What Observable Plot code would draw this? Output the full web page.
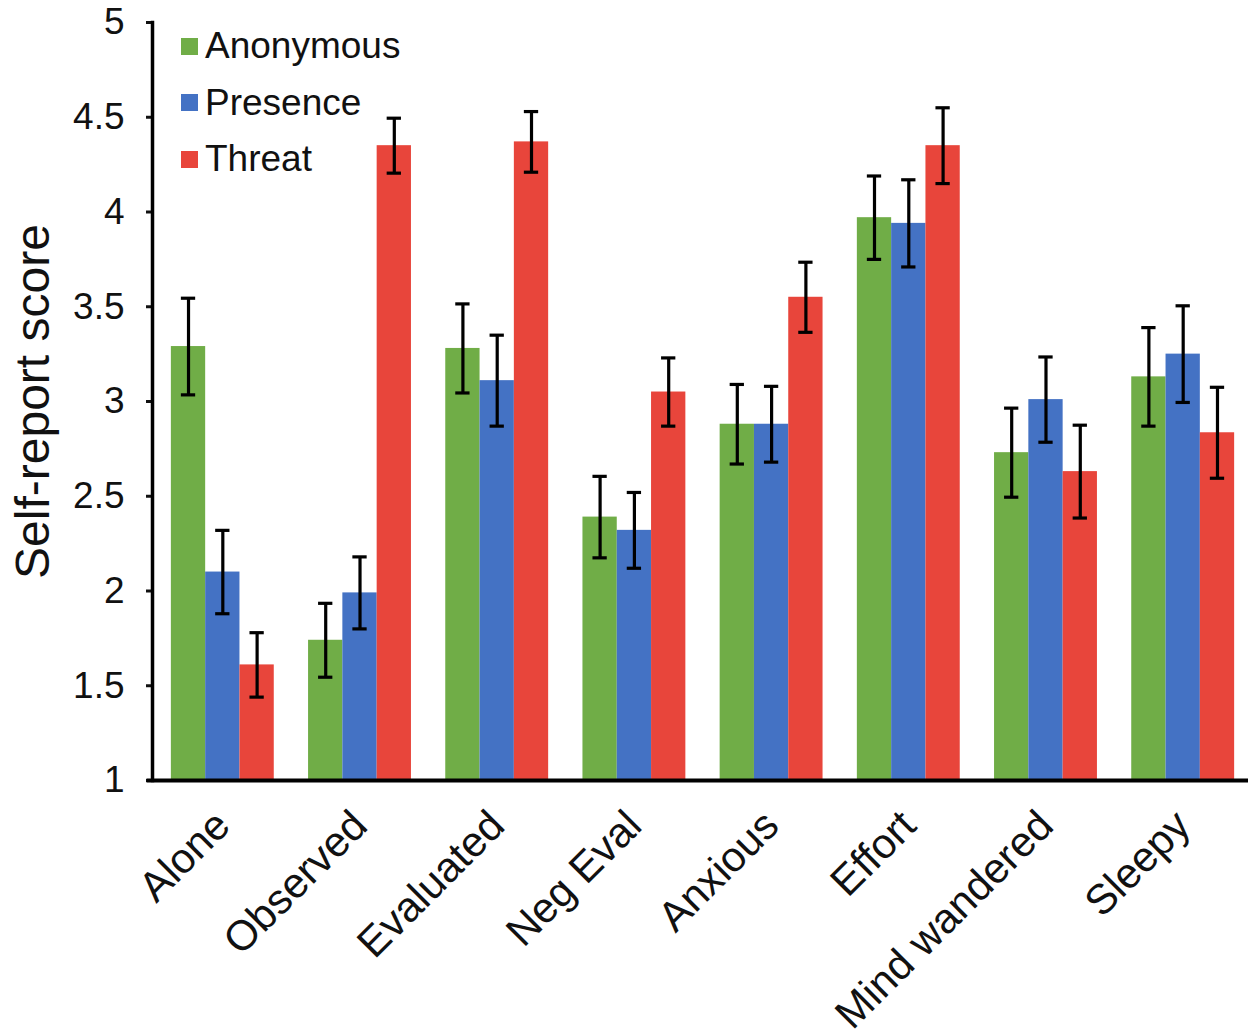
<!DOCTYPE html>
<html>
<head>
<meta charset="utf-8">
<script src="https://cdn.jsdelivr.net/npm/d3@7"></script>
<script src="https://cdn.jsdelivr.net/npm/@observablehq/plot@0.6"></script>
<style>
  html, body { margin: 0; padding: 0; background: #fff; }
  #wrap { position: relative; width: 1248px; height: 1036px; font-family: "Liberation Sans", Arial, Helvetica, sans-serif; }
  #legend { position: absolute; left: 181px; top: 18px; font-size: 37px; color: #111; }
  .item { display: flex; align-items: center; height: 56.5px; }
  .sw { width: 17px; height: 17px; margin-right: 7px; }
</style>
</head>
<body>
<div id="wrap"></div>
<script>
const categories = ["Alone", "Observed", "Evaluated", "Neg Eval", "Anxious", "Effort", "Mind wandered", "Sleepy"];
const seriesNames = ["Anonymous", "Presence", "Threat"];
const seriesColors = ["#70AD47", "#4472C4", "#E8453B"];
const anonymous = [3.29, 1.74, 3.28, 2.39, 2.88, 3.97, 2.73, 3.13];
const presence  = [2.10, 1.99, 3.11, 2.32, 2.88, 3.94, 3.01, 3.25];
const threat    = [1.61, 4.35, 4.37, 3.05, 3.55, 4.35, 2.63, 2.835];
const anonymousErr = [0.255, 0.195, 0.235, 0.215, 0.21, 0.22, 0.235, 0.26];
const presenceErr  = [0.22, 0.19, 0.24, 0.20, 0.20, 0.23, 0.225, 0.255];
const threatErr    = [0.17, 0.145, 0.16, 0.18, 0.185, 0.20, 0.245, 0.24];
const yTicks = [1, 1.5, 2, 2.5, 3, 3.5, 4, 4.5, 5];
const yLabel = "Self-report score";

const values = [anonymous, presence, threat];
const errs = [anonymousErr, presenceErr, threatErr];
const key = (c, s) => c + "|" + s;
const data = [];
const xKeys = [];
categories.forEach((c, i) => {
  seriesNames.forEach((s, j) => {
    xKeys.push(key(c, s));
    data.push({k: key(c, s), series: s, value: values[j][i], lo: values[j][i] - errs[j][i], hi: values[j][i] + errs[j][i]});
  });
  if (i < categories.length - 1) xKeys.push(key(c, "gap"));   // empty slot between groups
});
const labelKeys = categories.map(c => key(c, seriesNames[1]));
const yBase = yTicks[0];

const chart = Plot.plot({
  width: 1248,
  height: 1036,
  marginLeft: 152,
  marginRight: 0,
  marginTop: 22,
  marginBottom: 256,
  style: {fontFamily: "'Liberation Sans', Arial, Helvetica, sans-serif", color: "#111", background: "#fff"},
  x: {domain: xKeys, paddingInner: 0, paddingOuter: 0.55, range: [152, 1253], round: false, label: null},
  y: {domain: [yTicks[0], yTicks[yTicks.length - 1]], label: null},
  color: {domain: seriesNames, range: seriesColors},
  marks: [
    Plot.barY(data, {x: "k", y1: () => yBase, y2: "value", fill: "series"}),
    Plot.ruleX(data, {x: "k", y1: "lo", y2: "hi", stroke: "#000", strokeWidth: 3.2}),
    Plot.tickY(data, {x: "k", y: "hi", stroke: "#000", strokeWidth: 3.2, insetLeft: 10, insetRight: 10}),
    Plot.tickY(data, {x: "k", y: "lo", stroke: "#000", strokeWidth: 3.2, insetLeft: 10, insetRight: 10}),
    Plot.axisY({ticks: yTicks, tickFormat: d => String(d), tickSize: 6, tickPadding: 22, fontSize: 37, strokeWidth: 3, label: null}),
    Plot.axisX({ticks: labelKeys, tickFormat: k => k.split("|")[0], anchor: "bottom", tickRotate: -45, tickSize: 0, tickPadding: 38, fontSize: 42, label: null}),
    Plot.frame({anchor: "left", stroke: "#000", strokeWidth: 3.5}),
    Plot.frame({anchor: "bottom", stroke: "#000", strokeWidth: 4, insetLeft: -4}),
    Plot.text([yLabel], {frameAnchor: "left", textAnchor: "middle", dx: -119, rotate: -90, fontSize: 48, fill: "#111"})
  ]
});

const wrap = document.getElementById("wrap");
wrap.appendChild(chart);
const legend = document.createElement("div");
legend.id = "legend";
seriesNames.forEach((s, j) => {
  const it = document.createElement("div");
  it.className = "item";
  const sw = document.createElement("span");
  sw.className = "sw";
  sw.style.background = seriesColors[j];
  const tx = document.createElement("span");
  tx.textContent = s;
  it.appendChild(sw);
  it.appendChild(tx);
  legend.appendChild(it);
});
wrap.appendChild(legend);
</script>
</body>
</html>
